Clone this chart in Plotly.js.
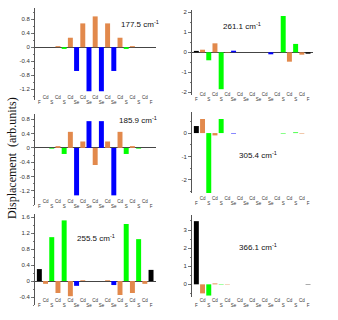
<!DOCTYPE html>
<html>
<head>
<meta charset="utf-8">
<script src="https://cdn.plot.ly/plotly-3.0.1.min.js"></script>
<style>
  html, body { margin: 0; padding: 0; background: #fff; }
  #chart { width: 338px; height: 320px; }
</style>
</head>
<body>
<div id="chart"></div>
<script>
// atoms along the slab, F ... F
const atoms = ['F', 'Cd', 'S', 'Cd', 'S', 'Cd', 'Se', 'Cd', 'Se', 'Cd', 'Se', 'Cd', 'Se', 'Cd', 'S', 'Cd', 'S', 'Cd', 'F'];

// displacement per atom for each mode
const mode177 = [0, 0, 0, 0.03, -0.05, 0.27, -0.68, 0.68, -1.26, 0.88, -1.26, 0.68, -0.68, 0.27, -0.05, 0.03, 0, 0, 0];
const mode186 = [0, 0, -0.02, 0.05, -0.17, 0.45, -1.33, 0.18, 0.75, -0.48, 0.75, 0.18, -1.33, 0.45, -0.17, 0.05, -0.02, 0, 0];
const mode256 = [0.3, -0.07, 1.1, -0.3, 1.52, -0.38, -0.12, 0.02, 0, 0, 0, 0.02, -0.1, -0.35, 1.43, -0.3, 1.05, -0.07, 0.28];
const mode261 = [0.07, 0.13, -0.4, 0.45, -1.85, -0.02, 0.08, 0, 0, 0, 0, 0, -0.1, 0, 1.82, -0.47, 0.42, -0.12, -0.07];
const mode305 = [0.3, 0.6, -2.57, -0.1, 0.6, 0, -0.02, 0, 0, 0, 0, 0, 0, 0, -0.02, 0, 0.03, -0.02, 0];
const mode366 = [3.49, -0.5, -0.62, 0.05, -0.02, -0.02, 0, 0, 0, 0, 0, 0, 0, 0, 0, 0, 0, 0, 0.02];

const modeLabels = ['177.5', '261.1', '185.9', '305.4', '255.5', '366.1'];

const ticks177 = [-1.2, -0.8, -0.4, 0, 0.4, 0.8];
const ticks261 = [-2, -1, 0, 1, 2];
const ticks186 = [-1.2, -0.8, -0.4, 0, 0.4, 0.8];
const ticks305 = [-2, -1, 0];
const ticks256 = [-0.4, 0, 0.4, 0.8, 1.2, 1.6];
const ticks366 = [0, 1, 2, 3];

const atomColors = { F: '#000000', Cd: '#e2894c', S: '#00ff00', Se: '#0000ff' };

const W = 338, H = 320;
const px = x => x / W;
const py = y => 1 - y / H;

// x tick text: Cd on the upper line, anions on the lower line
const xText = atoms.map(a => a === 'Cd' ? 'Cd' : '<br>' + a);
const xIdx = atoms.map((a, i) => i);

// panel boxes in pixels, x label row, y range, ticks, label spot
const panels = [
    { vals: mode177, x: [35, 156], y: [8, 100], xpos: 93, range: [-1.51, 1.12], ticks: ticks177, minor: 0.2, zero: true, lx: 140, ly: 24 },
    { vals: mode261, x: [192, 313], y: [10, 95], xpos: 90, range: [-2.14, 2.12], ticks: ticks261, minor: 0.5, zero: true, lx: 242, ly: 26 },
    { vals: mode186, x: [35, 156], y: [114, 205], xpos: 197, range: [-1.6, 0.95], ticks: ticks186, minor: 0.2, zero: true, lx: 138, ly: 120 },
    { vals: mode305, x: [192, 313], y: [112, 193], xpos: 194, range: [-2.56, 0.9], ticks: ticks305, minor: 0.5, zero: false, lx: 258, ly: 155 },
    { vals: mode256, x: [35, 156], y: [214, 305], xpos: 296, range: [-0.6, 1.68], ticks: ticks256, minor: 0.2, zero: true, lx: 96, ly: 238 },
    { vals: mode366, x: [192, 313], y: [215, 297], xpos: 296, range: [-0.7, 3.83], ticks: ticks366, minor: 0.5, zero: false, lx: 258, ly: 247 }
];

const data = [];
const layout = {
    width: W,
    height: H,
    margin: { l: 0, r: 0, t: 0, b: 0 },
    paper_bgcolor: '#ffffff',
    plot_bgcolor: 'rgba(0,0,0,0)',
    showlegend: false,
    font: { family: 'Liberation Sans, Arial, sans-serif', color: '#333' },
    annotations: []
};

panels.forEach((p, i) => {
    const n = i === 0 ? '' : String(i + 1);
    data.push({
        type: 'bar',
        x: xIdx,
        y: p.vals,
        xaxis: 'x' + n,
        yaxis: 'y' + n,
        width: 0.8,
        marker: { color: atoms.map(a => atomColors[a]), line: { width: 0 } },
        hoverinfo: 'skip'
    });
    layout['xaxis' + n] = {
        domain: [px(p.x[0]), px(p.x[1])],
        anchor: 'free',
        position: py(p.xpos),
        range: [-0.7, 18.8],
        tickmode: 'array',
        tickvals: xIdx,
        ticktext: xText,
        ticks: '',
        showline: false,
        showgrid: false,
        zeroline: false,
        tickangle: 0,
        tickfont: { size: 4.5, color: '#333' }
    };
    layout['yaxis' + n] = {
        domain: [py(p.y[1]), py(p.y[0])],
        anchor: 'x' + n,
        range: p.range,
        tickmode: 'array',
        tickvals: p.ticks,
        ticktext: p.ticks.map(String),
        ticks: 'outside',
        ticklen: 3,
        tickwidth: 0.8,
        tickcolor: '#555',
        minor: { tickmode: 'linear', tick0: 0, dtick: p.minor, ticks: 'outside', ticklen: 1.5, tickcolor: '#555' },
        showline: true,
        linecolor: '#555',
        linewidth: 1,
        showgrid: false,
        zeroline: p.zero,
        zerolinecolor: '#444',
        zerolinewidth: 1,
        tickfont: { size: 6, color: '#333' }
    };
    layout.annotations.push({
        text: modeLabels[i] + ' cm<sup>-1</sup>',
        xref: 'paper', yref: 'paper',
        x: px(p.lx), y: py(p.ly),
        xanchor: 'center', yanchor: 'middle',
        showarrow: false,
        font: { size: 8, color: '#111' }
    });
});

layout.annotations.push({
    text: 'Displacement  (arb.units)',
    xref: 'paper', yref: 'paper',
    x: px(12), y: py(158),
    xanchor: 'center', yanchor: 'middle',
    textangle: -90,
    showarrow: false,
    font: { family: 'Liberation Serif, Times New Roman, serif', size: 12, color: '#111' }
});

Plotly.newPlot('chart', data, layout, { staticPlot: true, displayModeBar: false });
</script>
</body>
</html>
